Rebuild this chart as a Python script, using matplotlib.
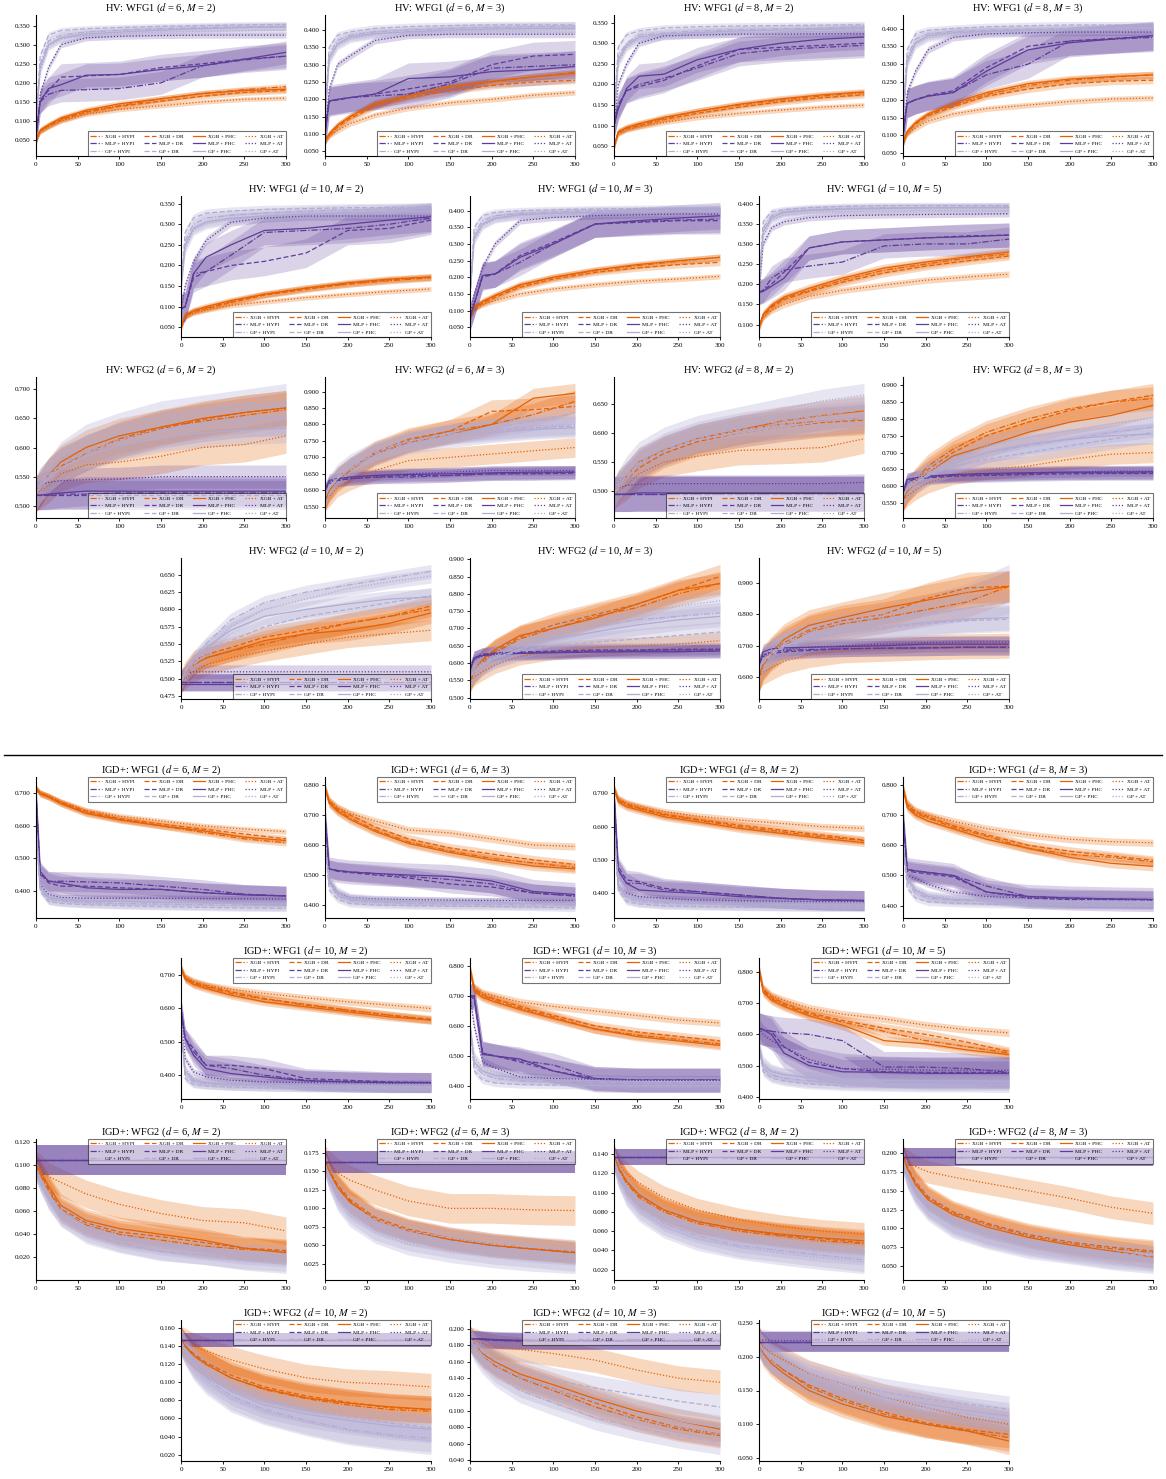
import matplotlib.pyplot as plt
from matplotlib.lines import Line2D
from matplotlib.ticker import MultipleLocator, FormatStrFormatter
import numpy as np

plt.rcParams['font.family'] = ['Liberation Serif', 'DejaVu Serif']
plt.rcParams['mathtext.fontset'] = 'stix'

ITERS = [0, 5, 15, 30, 60, 100, 150, 200, 250, 300]
MODELS = ['XGB', 'MLP', 'GP']
ACQS = ['HYPI', 'DR', 'PHC', 'AT']
SCALE = 1000.0  # values below are in thousandths

# rows: XGB+HYPI, XGB+DR, XGB+PHC, XGB+AT, MLP+..., GP+...
HV_WFG1_D6_M2 = [
    [50, 75, 88, 105, 125, 140, 158, 172, 182, 190],
    [50, 74, 87, 103, 123, 138, 152, 165, 175, 180],
    [50, 76, 90, 108, 128, 145, 158, 172, 180, 183],
    [50, 72, 85, 100, 118, 130, 140, 150, 157, 160],
    [60, 150, 170, 180, 182, 185, 200, 245, 260, 270],
    [60, 155, 180, 215, 218, 222, 240, 250, 262, 270],
    [60, 150, 185, 195, 220, 222, 235, 245, 262, 280],
    [60, 170, 240, 300, 318, 322, 324, 325, 325, 325],
    [100, 250, 310, 325, 333, 338, 342, 345, 347, 348],
    [100, 270, 325, 337, 342, 345, 348, 350, 352, 353],
    [100, 240, 300, 318, 328, 333, 338, 342, 345, 347],
    [100, 230, 295, 315, 325, 330, 333, 335, 337, 338],
]
HV_WFG1_D6_M2_BAND = [8, 8, 8, 6, 30, 35, 30, 8, 10, 8, 10, 10]

HV_WFG1_D6_M3 = [
    [80, 100, 125, 150, 185, 210, 235, 250, 265, 278],
    [80, 98, 120, 145, 180, 205, 225, 240, 250, 255],
    [80, 100, 125, 150, 190, 210, 238, 252, 265, 275],
    [80, 95, 110, 130, 155, 175, 190, 200, 212, 220],
    [100, 195, 200, 205, 210, 215, 245, 290, 295, 300],
    [100, 195, 198, 205, 215, 230, 250, 300, 325, 330],
    [100, 195, 200, 205, 215, 260, 265, 280, 285, 295],
    [100, 230, 300, 325, 370, 385, 388, 388, 388, 388],
    [150, 330, 370, 385, 395, 400, 405, 408, 410, 412],
    [150, 350, 385, 395, 405, 410, 413, 415, 415, 415],
    [150, 320, 360, 380, 390, 395, 400, 403, 405, 405],
    [150, 310, 355, 375, 388, 393, 398, 400, 400, 402],
]
HV_WFG1_D6_M3_BAND = [10, 10, 10, 8, 40, 40, 45, 10, 12, 10, 12, 12]

HV_WFG1_D8_M2 = [
    [50, 85, 95, 103, 118, 135, 150, 162, 172, 180],
    [50, 83, 93, 100, 115, 130, 145, 158, 168, 175],
    [50, 85, 95, 105, 120, 135, 152, 165, 175, 182],
    [50, 80, 90, 97, 108, 120, 130, 138, 145, 150],
    [100, 150, 185, 200, 215, 240, 275, 285, 290, 295],
    [100, 145, 185, 195, 210, 245, 285, 290, 295, 300],
    [100, 140, 190, 220, 225, 260, 285, 300, 310, 315],
    [100, 200, 250, 300, 318, 320, 322, 322, 323, 323],
    [120, 270, 300, 320, 325, 330, 333, 335, 337, 340],
    [120, 290, 320, 330, 337, 340, 342, 343, 344, 345],
    [120, 260, 295, 315, 322, 326, 330, 332, 334, 335],
    [120, 250, 290, 310, 318, 322, 325, 327, 328, 330],
]
HV_WFG1_D8_M2_BAND = [8, 8, 8, 6, 30, 30, 30, 8, 10, 8, 10, 10]

HV_WFG1_D8_M3 = [
    [80, 110, 135, 158, 185, 215, 240, 255, 263, 270],
    [80, 108, 132, 155, 180, 210, 230, 245, 252, 255],
    [80, 110, 135, 160, 190, 220, 245, 258, 265, 270],
    [80, 105, 120, 140, 160, 175, 185, 195, 202, 205],
    [100, 190, 200, 210, 220, 270, 300, 365, 370, 375],
    [100, 190, 200, 212, 225, 290, 350, 365, 372, 378],
    [100, 190, 200, 210, 220, 280, 340, 360, 370, 380],
    [100, 220, 280, 340, 375, 385, 388, 390, 390, 390],
    [150, 320, 370, 385, 392, 395, 398, 400, 402, 403],
    [150, 340, 385, 395, 400, 405, 408, 410, 410, 410],
    [150, 310, 360, 380, 388, 392, 395, 397, 398, 400],
    [150, 300, 355, 375, 385, 390, 392, 394, 395, 395],
]
HV_WFG1_D8_M3_BAND = [10, 10, 10, 8, 40, 40, 40, 10, 12, 10, 12, 12]

HV_WFG1_D10_M2 = [
    [50, 78, 90, 97, 112, 130, 145, 155, 163, 170],
    [50, 77, 88, 95, 110, 128, 142, 155, 165, 172],
    [50, 80, 90, 100, 115, 130, 145, 158, 167, 172],
    [50, 75, 85, 92, 103, 112, 122, 130, 137, 143],
    [95, 100, 180, 185, 225, 280, 285, 290, 300, 315],
    [95, 100, 170, 185, 200, 210, 230, 285, 290, 310],
    [95, 100, 180, 220, 250, 285, 290, 300, 310, 318],
    [95, 150, 210, 260, 305, 315, 320, 320, 320, 320],
    [150, 260, 300, 315, 322, 327, 332, 335, 337, 338],
    [150, 280, 315, 327, 332, 336, 338, 340, 341, 342],
    [150, 250, 290, 305, 315, 320, 325, 328, 330, 332],
    [150, 240, 285, 300, 312, 318, 322, 325, 327, 328],
]
HV_WFG1_D10_M2_BAND = [8, 8, 8, 6, 35, 35, 35, 10, 12, 10, 12, 12]

HV_WFG1_D10_M3 = [
    [80, 110, 125, 145, 175, 200, 220, 235, 248, 260],
    [80, 108, 122, 140, 170, 195, 215, 228, 238, 245],
    [80, 110, 128, 145, 178, 200, 222, 238, 250, 260],
    [80, 105, 118, 130, 150, 165, 178, 188, 195, 203],
    [80, 120, 205, 210, 245, 300, 360, 368, 372, 375],
    [80, 120, 200, 210, 265, 305, 360, 365, 370, 370],
    [80, 120, 205, 210, 260, 300, 360, 370, 378, 385],
    [80, 150, 230, 300, 370, 380, 385, 388, 390, 390],
    [150, 330, 370, 385, 392, 396, 400, 400, 402, 402],
    [150, 350, 385, 395, 400, 403, 405, 407, 408, 408],
    [150, 320, 360, 378, 388, 392, 395, 397, 398, 398],
    [150, 310, 355, 375, 385, 390, 393, 395, 395, 395],
]
HV_WFG1_D10_M3_BAND = [10, 10, 10, 8, 40, 40, 40, 10, 12, 10, 12, 12]

HV_WFG1_D10_M5 = [
    [95, 125, 145, 165, 185, 210, 235, 250, 265, 275],
    [95, 122, 142, 162, 182, 205, 228, 245, 258, 270],
    [95, 125, 148, 168, 190, 215, 240, 255, 268, 280],
    [95, 118, 135, 150, 170, 185, 198, 210, 218, 225],
    [180, 185, 215, 235, 245, 255, 295, 300, 300, 312],
    [180, 185, 200, 230, 290, 305, 310, 315, 320, 322],
    [180, 182, 195, 215, 290, 305, 310, 315, 318, 322],
    [180, 300, 340, 355, 365, 370, 372, 373, 374, 375],
    [200, 340, 370, 380, 385, 388, 390, 390, 391, 392],
    [200, 355, 380, 385, 390, 393, 395, 395, 395, 395],
    [200, 330, 365, 378, 383, 386, 388, 390, 390, 390],
    [200, 320, 360, 372, 378, 380, 382, 383, 383, 383],
]
HV_WFG1_D10_M5_BAND = [10, 10, 10, 8, 30, 30, 30, 8, 10, 8, 10, 10]

HV_WFG2_D6_M2 = [
    [520, 530, 550, 570, 590, 615, 635, 645, 655, 665],
    [520, 528, 550, 568, 590, 612, 632, 648, 660, 668],
    [520, 530, 552, 575, 600, 620, 635, 650, 660, 668],
    [520, 525, 535, 555, 570, 575, 585, 600, 605, 620],
    [518, 518, 518, 520, 520, 522, 522, 522, 522, 522],
    [518, 518, 518, 518, 518, 518, 518, 518, 518, 518],
    [518, 518, 520, 522, 525, 525, 525, 525, 525, 525],
    [525, 535, 540, 543, 545, 546, 550, 550, 550, 550],
    [520, 535, 550, 570, 590, 610, 628, 640, 648, 652],
    [520, 535, 552, 572, 592, 612, 630, 640, 648, 650],
    [520, 530, 548, 565, 585, 603, 618, 625, 630, 633],
    [520, 540, 560, 590, 620, 640, 660, 670, 680, 690],
]
HV_WFG2_D6_M2_BAND = [30, 30, 30, 30, 25, 25, 25, 20, 30, 30, 25, 20]

HV_WFG2_D6_M3 = [
    [570, 600, 630, 660, 710, 750, 780, 800, 830, 870],
    [570, 600, 635, 665, 715, 755, 780, 840, 845, 855],
    [570, 600, 640, 665, 710, 745, 770, 800, 880, 895],
    [570, 580, 610, 630, 660, 690, 700, 710, 720, 730],
    [600, 625, 630, 635, 640, 640, 645, 650, 652, 655],
    [600, 620, 630, 635, 640, 645, 645, 650, 650, 652],
    [600, 630, 635, 640, 645, 648, 650, 653, 655, 655],
    [600, 625, 635, 640, 645, 650, 655, 660, 660, 660],
    [580, 610, 640, 670, 710, 745, 770, 790, 810, 835],
    [580, 610, 640, 670, 715, 750, 770, 780, 790, 795],
    [580, 605, 635, 665, 705, 740, 760, 775, 785, 790],
    [580, 615, 650, 680, 720, 750, 775, 785, 795, 800],
]
HV_WFG2_D6_M3_BAND = [35, 35, 30, 30, 20, 20, 20, 15, 30, 30, 30, 30]

HV_WFG2_D8_M2 = [
    [495, 505, 520, 545, 570, 590, 605, 615, 620, 625],
    [495, 505, 520, 540, 565, 585, 600, 610, 618, 622],
    [495, 510, 525, 550, 570, 590, 605, 620, 630, 638],
    [495, 500, 510, 530, 550, 560, 570, 572, 575, 590],
    [495, 495, 495, 495, 495, 495, 495, 495, 495, 495],
    [495, 495, 495, 495, 495, 495, 495, 495, 495, 495],
    [495, 495, 495, 497, 497, 497, 497, 497, 497, 497],
    [500, 505, 510, 512, 513, 513, 513, 513, 513, 515],
    [495, 510, 525, 550, 575, 595, 610, 620, 630, 640],
    [495, 510, 525, 548, 570, 590, 605, 615, 625, 630],
    [495, 505, 520, 545, 568, 588, 600, 610, 620, 625],
    [495, 515, 540, 565, 590, 610, 625, 640, 655, 665],
]
HV_WFG2_D8_M2_BAND = [25, 25, 25, 25, 30, 30, 30, 15, 25, 25, 25, 20]

HV_WFG2_D8_M3 = [
    [560, 590, 620, 660, 710, 760, 800, 830, 850, 860],
    [560, 585, 615, 650, 700, 750, 790, 825, 850, 870],
    [560, 585, 610, 640, 690, 720, 760, 790, 810, 840],
    [560, 570, 590, 610, 635, 650, 660, 680, 695, 700],
    [580, 620, 625, 628, 632, 635, 638, 640, 640, 640],
    [580, 615, 622, 625, 630, 632, 635, 637, 638, 638],
    [580, 620, 625, 630, 635, 638, 640, 642, 642, 643],
    [580, 610, 622, 628, 632, 636, 640, 642, 645, 645],
    [570, 595, 615, 640, 670, 700, 720, 740, 760, 775],
    [570, 590, 610, 630, 660, 680, 700, 720, 740, 760],
    [570, 590, 610, 635, 665, 700, 725, 740, 750, 755],
    [570, 595, 620, 645, 680, 720, 745, 765, 785, 805],
]
HV_WFG2_D8_M3_BAND = [35, 35, 35, 30, 20, 20, 20, 15, 30, 30, 30, 30]

HV_WFG2_D10_M2 = [
    [495, 505, 520, 530, 540, 550, 565, 580, 590, 600],
    [495, 510, 525, 535, 545, 560, 570, 580, 590, 605],
    [495, 505, 520, 530, 540, 555, 565, 570, 580, 595],
    [495, 500, 510, 520, 530, 540, 550, 560, 565, 570],
    [495, 495, 495, 495, 495, 495, 495, 495, 495, 495],
    [495, 495, 495, 495, 495, 495, 495, 495, 495, 495],
    [493, 493, 493, 493, 493, 493, 493, 493, 493, 493],
    [505, 508, 510, 510, 510, 510, 510, 510, 510, 510],
    [495, 510, 530, 550, 585, 610, 625, 635, 645, 655],
    [495, 505, 520, 535, 555, 575, 590, 600, 610, 620],
    [495, 510, 525, 545, 570, 590, 600, 608, 615, 618],
    [495, 505, 520, 540, 575, 600, 615, 630, 640, 648],
]
HV_WFG2_D10_M2_BAND = [15, 15, 15, 15, 12, 12, 12, 10, 10, 12, 12, 10]

HV_WFG2_D10_M3 = [
    [550, 575, 600, 630, 670, 700, 735, 760, 800, 830],
    [550, 575, 605, 635, 675, 710, 740, 770, 810, 850],
    [550, 580, 610, 640, 680, 700, 730, 770, 810, 830],
    [550, 560, 575, 595, 620, 635, 645, 650, 655, 665],
    [580, 615, 625, 628, 630, 632, 635, 635, 635, 635],
    [580, 615, 625, 630, 632, 635, 638, 638, 640, 640],
    [580, 615, 622, 625, 628, 630, 632, 633, 633, 635],
    [580, 610, 620, 625, 630, 632, 635, 637, 638, 640],
    [560, 580, 600, 620, 650, 680, 705, 725, 735, 745],
    [560, 575, 595, 615, 635, 650, 660, 670, 680, 690],
    [560, 575, 595, 615, 640, 670, 690, 710, 725, 735],
    [560, 580, 605, 625, 655, 690, 720, 745, 765, 780],
]
HV_WFG2_D10_M3_BAND = [35, 35, 30, 25, 20, 20, 20, 15, 30, 30, 30, 30]

HV_WFG2_D10_M5 = [
    [600, 640, 670, 700, 745, 770, 790, 815, 840, 890],
    [600, 640, 675, 710, 750, 780, 800, 850, 885, 890],
    [600, 650, 680, 720, 765, 790, 820, 845, 870, 890],
    [600, 615, 630, 650, 670, 685, 690, 695, 698, 700],
    [640, 670, 680, 685, 688, 690, 692, 693, 695, 695],
    [640, 665, 675, 680, 685, 690, 692, 693, 695, 695],
    [640, 680, 690, 693, 695, 697, 700, 705, 705, 705],
    [640, 670, 680, 688, 695, 700, 705, 710, 712, 712],
    [620, 650, 680, 705, 735, 760, 780, 800, 820, 840],
    [620, 645, 670, 695, 720, 740, 755, 770, 780, 785],
    [620, 650, 675, 700, 725, 745, 760, 775, 785, 790],
    [620, 660, 690, 715, 745, 775, 800, 830, 870, 930],
]
HV_WFG2_D10_M5_BAND = [50, 50, 50, 40, 25, 25, 25, 20, 40, 40, 40, 30]

IGD_WFG1_D6_M2 = [
    [715, 700, 690, 670, 640, 620, 600, 580, 560, 548],
    [715, 700, 690, 672, 645, 622, 605, 590, 575, 560],
    [715, 698, 688, 668, 638, 618, 600, 585, 565, 555],
    [715, 702, 692, 675, 648, 630, 615, 600, 590, 582],
    [700, 450, 430, 430, 428, 425, 415, 405, 390, 385],
    [700, 455, 425, 415, 415, 410, 405, 395, 390, 385],
    [700, 460, 430, 425, 410, 405, 405, 395, 388, 385],
    [700, 420, 390, 380, 378, 378, 378, 377, 376, 375],
    [600, 410, 375, 370, 365, 362, 360, 358, 356, 355],
    [600, 400, 368, 362, 358, 355, 352, 350, 348, 347],
    [600, 410, 380, 375, 370, 368, 365, 363, 362, 360],
    [600, 415, 385, 378, 372, 370, 368, 367, 366, 365],
]
IGD_WFG1_D6_M2_BAND = [10, 10, 10, 8, 30, 30, 30, 10, 15, 10, 12, 12]

IGD_WFG1_D6_M3 = [
    [790, 740, 715, 690, 650, 610, 580, 555, 540, 525],
    [790, 745, 720, 700, 660, 620, 590, 570, 550, 535],
    [790, 740, 712, 685, 645, 605, 575, 550, 530, 520],
    [790, 750, 725, 705, 680, 650, 640, 620, 600, 595],
    [700, 520, 515, 510, 505, 495, 485, 470, 440, 430],
    [700, 520, 512, 508, 500, 490, 470, 460, 440, 430],
    [700, 520, 515, 510, 505, 500, 495, 480, 445, 435],
    [700, 480, 440, 425, 420, 418, 416, 415, 415, 415],
    [600, 470, 430, 415, 410, 405, 403, 402, 400, 400],
    [600, 450, 420, 405, 400, 398, 396, 395, 393, 390],
    [600, 480, 440, 420, 415, 412, 410, 408, 405, 405],
    [600, 490, 445, 425, 418, 415, 412, 410, 410, 410],
]
IGD_WFG1_D6_M3_BAND = [15, 15, 15, 12, 30, 30, 40, 10, 15, 12, 15, 15]

IGD_WFG1_D8_M2 = [
    [715, 680, 665, 655, 635, 620, 600, 585, 570, 558],
    [715, 682, 668, 657, 638, 622, 605, 590, 575, 560],
    [715, 675, 660, 650, 630, 615, 595, 580, 565, 552],
    [715, 685, 672, 662, 645, 632, 620, 610, 600, 595],
    [700, 470, 430, 430, 410, 405, 395, 385, 380, 378],
    [700, 480, 440, 435, 415, 405, 395, 385, 380, 378],
    [700, 470, 430, 410, 405, 400, 390, 385, 380, 378],
    [700, 420, 400, 390, 385, 380, 378, 376, 375, 375],
    [600, 420, 385, 375, 370, 368, 365, 363, 362, 362],
    [600, 410, 375, 368, 362, 360, 358, 357, 356, 355],
    [600, 425, 390, 380, 373, 370, 368, 367, 366, 365],
    [600, 430, 395, 385, 378, 375, 372, 370, 370, 370],
]
IGD_WFG1_D8_M2_BAND = [12, 12, 12, 10, 30, 30, 30, 10, 15, 10, 12, 12]

IGD_WFG1_D8_M3 = [
    [790, 730, 705, 690, 660, 630, 590, 570, 560, 545],
    [790, 735, 710, 695, 665, 635, 600, 580, 565, 550],
    [790, 725, 700, 680, 655, 620, 590, 560, 540, 530],
    [790, 740, 715, 700, 680, 655, 635, 620, 612, 608],
    [700, 520, 515, 510, 500, 465, 430, 425, 422, 420],
    [700, 515, 510, 505, 495, 445, 425, 420, 420, 418],
    [700, 520, 515, 510, 500, 445, 430, 425, 422, 420],
    [700, 500, 490, 470, 445, 430, 425, 422, 420, 420],
    [600, 480, 440, 425, 418, 415, 413, 412, 410, 410],
    [600, 460, 425, 412, 408, 405, 403, 402, 400, 400],
    [600, 490, 450, 430, 420, 418, 415, 413, 412, 412],
    [600, 500, 455, 435, 425, 420, 418, 416, 415, 415],
]
IGD_WFG1_D8_M3_BAND = [15, 15, 15, 12, 30, 30, 40, 10, 15, 12, 15, 15]

IGD_WFG1_D10_M2 = [
    [720, 690, 675, 665, 645, 628, 610, 595, 580, 565],
    [720, 692, 678, 668, 650, 630, 612, 595, 580, 568],
    [720, 688, 672, 660, 640, 620, 605, 590, 575, 565],
    [720, 695, 682, 670, 658, 645, 632, 620, 610, 600],
    [600, 510, 470, 430, 420, 400, 385, 380, 378, 378],
    [600, 510, 480, 430, 430, 420, 390, 385, 380, 378],
    [600, 510, 460, 420, 405, 395, 383, 380, 378, 378],
    [600, 450, 410, 395, 385, 380, 378, 377, 376, 376],
    [550, 400, 380, 375, 370, 368, 366, 365, 364, 363],
    [550, 390, 372, 368, 365, 362, 360, 360, 359, 358],
    [550, 410, 385, 378, 372, 370, 368, 367, 366, 365],
    [550, 420, 390, 380, 375, 372, 370, 369, 368, 368],
]
IGD_WFG1_D10_M2_BAND = [12, 12, 12, 10, 30, 30, 30, 10, 15, 10, 12, 12]

IGD_WFG1_D10_M3 = [
    [790, 720, 700, 685, 660, 630, 590, 570, 555, 540],
    [790, 725, 705, 690, 665, 635, 600, 580, 565, 550],
    [790, 715, 695, 680, 655, 625, 590, 565, 550, 535],
    [790, 730, 710, 700, 680, 665, 650, 635, 620, 610],
    [700, 700, 510, 500, 485, 470, 425, 420, 420, 420],
    [700, 690, 510, 500, 480, 450, 425, 420, 420, 420],
    [700, 700, 505, 500, 490, 450, 420, 418, 418, 418],
    [700, 600, 480, 460, 430, 425, 422, 420, 420, 420],
    [600, 470, 440, 425, 418, 415, 412, 410, 410, 410],
    [600, 450, 420, 410, 405, 403, 402, 400, 400, 400],
    [600, 480, 450, 435, 425, 420, 418, 415, 415, 415],
    [600, 500, 460, 440, 430, 425, 420, 418, 418, 418],
]
IGD_WFG1_D10_M3_BAND = [15, 15, 15, 12, 40, 40, 40, 15, 15, 12, 15, 15]

IGD_WFG1_D10_M5 = [
    [810, 740, 715, 695, 665, 640, 610, 580, 560, 540],
    [810, 745, 720, 700, 670, 645, 620, 600, 575, 545],
    [810, 735, 710, 690, 660, 630, 580, 570, 550, 535],
    [810, 750, 725, 710, 685, 665, 650, 630, 615, 605],
    [620, 615, 610, 605, 600, 580, 495, 495, 490, 478],
    [620, 615, 610, 560, 510, 490, 480, 478, 478, 478],
    [620, 615, 600, 540, 500, 480, 478, 475, 475, 475],
    [620, 600, 580, 560, 520, 490, 488, 485, 485, 485],
    [560, 490, 470, 460, 450, 445, 442, 440, 440, 440],
    [560, 480, 460, 450, 440, 435, 432, 430, 430, 428],
    [560, 500, 480, 470, 460, 455, 452, 450, 450, 448],
    [560, 510, 485, 472, 462, 458, 455, 452, 452, 450],
]
IGD_WFG1_D10_M5_BAND = [15, 15, 15, 12, 50, 50, 50, 30, 20, 15, 20, 20]

IGD_WFG2_D6_M2 = [
    [100, 92, 78, 60, 48, 40, 35, 30, 27, 25],
    [100, 93, 80, 62, 50, 42, 38, 33, 28, 26],
    [100, 95, 82, 65, 52, 45, 40, 35, 28, 24],
    [100, 98, 90, 85, 75, 66, 58, 52, 50, 43],
    [104, 104, 104, 104, 104, 104, 104, 104, 104, 104],
    [104, 104, 104, 104, 104, 104, 104, 104, 104, 104],
    [104, 104, 104, 104, 104, 104, 104, 104, 104, 104],
    [104, 104, 104, 104, 104, 104, 104, 104, 104, 104],
    [95, 85, 70, 55, 40, 32, 25, 22, 18, 16],
    [95, 87, 72, 58, 45, 36, 30, 26, 22, 20],
    [95, 88, 75, 60, 47, 38, 32, 27, 24, 22],
    [95, 86, 70, 55, 42, 33, 26, 22, 17, 14],
]
IGD_WFG2_D6_M2_BAND = [10, 10, 10, 12, 13, 13, 13, 13, 8, 8, 8, 8]

IGD_WFG2_D6_M3 = [
    [165, 150, 130, 110, 85, 70, 58, 50, 45, 40],
    [165, 152, 132, 112, 88, 72, 60, 52, 46, 42],
    [165, 150, 128, 108, 85, 70, 58, 50, 45, 40],
    [165, 158, 148, 138, 125, 110, 100, 100, 98, 97],
    [163, 163, 163, 163, 163, 163, 163, 163, 163, 163],
    [163, 163, 163, 163, 163, 163, 163, 163, 163, 163],
    [163, 163, 163, 163, 163, 163, 163, 163, 163, 163],
    [163, 163, 163, 163, 163, 163, 163, 163, 163, 163],
    [160, 140, 115, 95, 72, 58, 48, 40, 35, 30],
    [160, 145, 125, 105, 85, 70, 60, 52, 47, 43],
    [160, 142, 120, 100, 80, 65, 55, 48, 42, 38],
    [160, 140, 112, 90, 68, 52, 42, 35, 30, 27],
]
IGD_WFG2_D6_M3_BAND = [15, 15, 15, 20, 15, 15, 15, 15, 15, 15, 15, 15]

IGD_WFG2_D8_M2 = [
    [137, 125, 110, 95, 80, 68, 60, 55, 50, 47],
    [137, 127, 112, 97, 82, 70, 62, 56, 52, 48],
    [137, 126, 112, 98, 82, 70, 62, 57, 53, 50],
    [137, 130, 120, 110, 95, 82, 72, 65, 60, 57],
    [137, 137, 137, 137, 137, 137, 137, 137, 137, 137],
    [137, 137, 137, 137, 137, 137, 137, 137, 137, 137],
    [137, 137, 137, 137, 137, 137, 137, 137, 137, 137],
    [137, 137, 137, 137, 137, 137, 137, 137, 137, 137],
    [135, 118, 100, 85, 68, 55, 45, 40, 35, 30],
    [135, 120, 105, 90, 72, 60, 50, 45, 40, 37],
    [135, 122, 105, 90, 75, 63, 55, 50, 45, 42],
    [135, 118, 98, 82, 65, 52, 43, 37, 32, 28],
]
IGD_WFG2_D8_M2_BAND = [12, 12, 12, 12, 8, 8, 8, 8, 12, 12, 12, 12]

IGD_WFG2_D8_M3 = [
    [195, 180, 160, 140, 120, 105, 90, 80, 73, 68],
    [195, 182, 162, 142, 122, 107, 92, 82, 75, 70],
    [195, 180, 158, 138, 118, 102, 88, 78, 70, 62],
    [195, 190, 182, 175, 168, 160, 150, 140, 128, 120],
    [195, 195, 195, 195, 195, 195, 195, 195, 195, 195],
    [195, 195, 195, 195, 195, 195, 195, 195, 195, 195],
    [195, 195, 195, 195, 195, 195, 195, 195, 195, 195],
    [195, 195, 195, 195, 195, 195, 195, 195, 195, 195],
    [190, 170, 148, 128, 105, 90, 78, 70, 62, 58],
    [190, 172, 152, 132, 110, 95, 83, 75, 68, 63],
    [190, 172, 150, 130, 108, 93, 80, 72, 66, 60],
    [190, 168, 145, 125, 102, 88, 75, 68, 60, 55],
]
IGD_WFG2_D8_M3_BAND = [15, 15, 15, 15, 12, 12, 12, 12, 15, 15, 15, 15]

IGD_WFG2_D10_M2 = [
    [147, 140, 130, 120, 105, 92, 82, 75, 70, 68],
    [147, 140, 132, 122, 108, 95, 85, 78, 72, 70],
    [147, 140, 130, 120, 105, 93, 83, 77, 73, 70],
    [147, 145, 140, 135, 125, 115, 105, 100, 98, 95],
    [147, 147, 147, 147, 147, 147, 147, 147, 147, 147],
    [147, 147, 147, 147, 147, 147, 147, 147, 147, 147],
    [147, 147, 147, 147, 147, 147, 147, 147, 147, 147],
    [147, 147, 147, 147, 147, 147, 147, 147, 147, 147],
    [145, 135, 120, 105, 85, 70, 58, 48, 42, 38],
    [145, 138, 125, 112, 95, 80, 70, 62, 55, 50],
    [145, 136, 122, 108, 90, 75, 65, 58, 52, 48],
    [145, 135, 118, 102, 82, 68, 56, 46, 40, 35],
]
IGD_WFG2_D10_M2_BAND = [15, 15, 15, 15, 8, 8, 8, 8, 15, 15, 15, 15]

IGD_WFG2_D10_M3 = [
    [188, 180, 168, 155, 140, 125, 105, 90, 78, 70],
    [188, 182, 170, 158, 142, 128, 110, 93, 80, 72],
    [188, 182, 170, 160, 145, 132, 115, 100, 88, 78],
    [188, 186, 182, 178, 175, 170, 162, 150, 140, 135],
    [188, 188, 187, 186, 185, 185, 185, 185, 185, 185],
    [188, 188, 187, 186, 186, 185, 185, 185, 185, 185],
    [188, 188, 188, 187, 186, 186, 186, 186, 186, 186],
    [188, 188, 187, 186, 185, 185, 185, 185, 185, 185],
    [188, 175, 160, 145, 125, 110, 92, 80, 70, 62],
    [188, 182, 172, 162, 150, 138, 128, 120, 112, 105],
    [188, 180, 168, 158, 142, 128, 112, 98, 88, 80],
    [188, 178, 165, 150, 132, 118, 102, 90, 80, 72],
]
IGD_WFG2_D10_M3_BAND = [15, 15, 15, 15, 10, 10, 10, 10, 15, 15, 15, 15]

IGD_WFG2_D10_M5 = [
    [225, 210, 195, 180, 155, 135, 115, 100, 90, 80],
    [225, 210, 195, 180, 158, 138, 118, 102, 92, 85],
    [225, 205, 190, 175, 150, 130, 112, 100, 90, 75],
    [225, 215, 205, 195, 175, 160, 140, 125, 110, 100],
    [222, 222, 222, 222, 222, 222, 222, 222, 222, 222],
    [222, 222, 222, 222, 222, 222, 222, 222, 222, 222],
    [222, 222, 222, 222, 222, 222, 222, 222, 222, 222],
    [225, 225, 224, 224, 224, 224, 224, 224, 224, 224],
    [220, 210, 195, 185, 165, 150, 135, 125, 115, 105],
    [220, 212, 200, 190, 175, 160, 148, 138, 130, 122],
    [220, 210, 198, 188, 170, 155, 140, 130, 120, 112],
    [220, 208, 195, 182, 162, 145, 130, 118, 108, 98],
]
IGD_WFG2_D10_M5_BAND = [20, 20, 20, 20, 15, 15, 15, 15, 20, 20, 20, 20]

# (metric, problem, d, M, curves, band half-widths, y tick step)
PANELS = [
    ('HV', 'WFG1', 6, 2, HV_WFG1_D6_M2, HV_WFG1_D6_M2_BAND, 0.05),
    ('HV', 'WFG1', 6, 3, HV_WFG1_D6_M3, HV_WFG1_D6_M3_BAND, 0.05),
    ('HV', 'WFG1', 8, 2, HV_WFG1_D8_M2, HV_WFG1_D8_M2_BAND, 0.05),
    ('HV', 'WFG1', 8, 3, HV_WFG1_D8_M3, HV_WFG1_D8_M3_BAND, 0.05),
    ('HV', 'WFG1', 10, 2, HV_WFG1_D10_M2, HV_WFG1_D10_M2_BAND, 0.05),
    ('HV', 'WFG1', 10, 3, HV_WFG1_D10_M3, HV_WFG1_D10_M3_BAND, 0.05),
    ('HV', 'WFG1', 10, 5, HV_WFG1_D10_M5, HV_WFG1_D10_M5_BAND, 0.05),
    ('HV', 'WFG2', 6, 2, HV_WFG2_D6_M2, HV_WFG2_D6_M2_BAND, 0.05),
    ('HV', 'WFG2', 6, 3, HV_WFG2_D6_M3, HV_WFG2_D6_M3_BAND, 0.05),
    ('HV', 'WFG2', 8, 2, HV_WFG2_D8_M2, HV_WFG2_D8_M2_BAND, 0.05),
    ('HV', 'WFG2', 8, 3, HV_WFG2_D8_M3, HV_WFG2_D8_M3_BAND, 0.05),
    ('HV', 'WFG2', 10, 2, HV_WFG2_D10_M2, HV_WFG2_D10_M2_BAND, 0.025),
    ('HV', 'WFG2', 10, 3, HV_WFG2_D10_M3, HV_WFG2_D10_M3_BAND, 0.05),
    ('HV', 'WFG2', 10, 5, HV_WFG2_D10_M5, HV_WFG2_D10_M5_BAND, 0.1),
    ('IGD+', 'WFG1', 6, 2, IGD_WFG1_D6_M2, IGD_WFG1_D6_M2_BAND, 0.1),
    ('IGD+', 'WFG1', 6, 3, IGD_WFG1_D6_M3, IGD_WFG1_D6_M3_BAND, 0.1),
    ('IGD+', 'WFG1', 8, 2, IGD_WFG1_D8_M2, IGD_WFG1_D8_M2_BAND, 0.1),
    ('IGD+', 'WFG1', 8, 3, IGD_WFG1_D8_M3, IGD_WFG1_D8_M3_BAND, 0.1),
    ('IGD+', 'WFG1', 10, 2, IGD_WFG1_D10_M2, IGD_WFG1_D10_M2_BAND, 0.1),
    ('IGD+', 'WFG1', 10, 3, IGD_WFG1_D10_M3, IGD_WFG1_D10_M3_BAND, 0.1),
    ('IGD+', 'WFG1', 10, 5, IGD_WFG1_D10_M5, IGD_WFG1_D10_M5_BAND, 0.1),
    ('IGD+', 'WFG2', 6, 2, IGD_WFG2_D6_M2, IGD_WFG2_D6_M2_BAND, 0.02),
    ('IGD+', 'WFG2', 6, 3, IGD_WFG2_D6_M3, IGD_WFG2_D6_M3_BAND, 0.025),
    ('IGD+', 'WFG2', 8, 2, IGD_WFG2_D8_M2, IGD_WFG2_D8_M2_BAND, 0.02),
    ('IGD+', 'WFG2', 8, 3, IGD_WFG2_D8_M3, IGD_WFG2_D8_M3_BAND, 0.025),
    ('IGD+', 'WFG2', 10, 2, IGD_WFG2_D10_M2, IGD_WFG2_D10_M2_BAND, 0.02),
    ('IGD+', 'WFG2', 10, 3, IGD_WFG2_D10_M3, IGD_WFG2_D10_M3_BAND, 0.02),
    ('IGD+', 'WFG2', 10, 5, IGD_WFG2_D10_M5, IGD_WFG2_D10_M5_BAND, 0.05),
]

COLORS = {'XGB': '#e66101', 'MLP': '#5e3c99', 'GP': '#b2abd2'}
STYLES = {'HYPI': (0, (5, 1.5, 1, 1.5)), 'DR': (0, (4, 2)), 'PHC': '-', 'AT': (0, (1, 1.5))}
BAND_ALPHA = {'XGB': 0.25, 'MLP': 0.22, 'GP': 0.3}

# layout in pixels
W, H = 1166, 1479
COLS4 = [36, 325, 614, 903]
COLS3 = [181, 470, 759]
ROW_TOPS = [15, 196, 377, 558, 777, 958, 1139, 1320]
AX_W, AX_H = 250, 141

fig = plt.figure(figsize=(W / 100, H / 100), dpi=100)

slots = []
for r, top in enumerate(ROW_TOPS):
    cols = COLS4 if r % 2 == 0 else COLS3
    for left in cols:
        slots.append((left, top))

x = np.array(ITERS)
for (metric, prob, d, m, curves, bands, ystep), (left, top) in zip(PANELS, slots):
    ax = fig.add_axes([left / W, 1 - (top + AX_H) / H, AX_W / W, AX_H / H])
    handles = {}
    k = 0
    for model in MODELS:
        for acq in ACQS:
            y = np.array(curves[k]) / SCALE
            w = bands[k] / SCALE
            ax.fill_between(x, y - w, y + w, color=COLORS[model],
                            alpha=BAND_ALPHA[model], lw=0)
            ln, = ax.plot(x, y, color=COLORS[model], ls=STYLES[acq], lw=0.9,
                          label=f'{model} + {acq}')
            handles[(model, acq)] = ln
            k += 1
    ax.set_xlim(0, 300)
    ax.xaxis.set_major_locator(MultipleLocator(50))
    ax.yaxis.set_major_locator(MultipleLocator(ystep))
    ax.yaxis.set_major_formatter(FormatStrFormatter('%.3f'))
    ax.tick_params(labelsize=5, length=2.5, width=0.6, pad=1.5)
    for s in ['top', 'right']:
        ax.spines[s].set_visible(False)
    for s in ['left', 'bottom']:
        ax.spines[s].set_linewidth(0.8)
    ax.set_title(f'{metric}: {prob} ($d$ = {d}, $M$ = {m})', fontsize=7.5, pad=2.5)

    order = [handles[(mo, a)] for a in ACQS for mo in MODELS]
    leg = ax.legend(order, [h.get_label() for h in order], ncol=4,
                    loc='lower right' if metric == 'HV' else 'upper right',
                    fontsize=3.9, handlelength=2.2, handletextpad=0.6,
                    columnspacing=1.7, labelspacing=0.5, borderpad=0.45,
                    borderaxespad=0.0, fancybox=False, framealpha=0.55,
                    edgecolor='black')
    leg.get_frame().set_linewidth(0.8)

fig.add_artist(Line2D([4 / W, 1162 / W], [1 - 755 / H, 1 - 755 / H],
                      color='black', lw=1.0))

fig.savefig('out.png', dpi=100)
